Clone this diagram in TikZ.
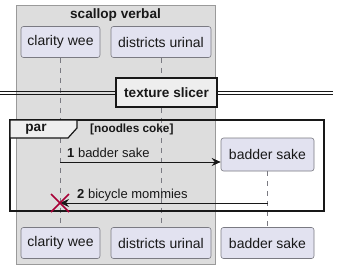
\documentclass[tikz,border=0pt]{standalone}
\usepackage{fontspec}
\setmainfont{Liberation Sans}
\usetikzlibrary{arrows.meta}
\definecolor{grpbg}{HTML}{DDDDDD}
\definecolor{grpline}{HTML}{9A9A9A}
\definecolor{partfill}{HTML}{E2E2F0}
\definecolor{partline}{HTML}{7A7A82}
\definecolor{tabfill}{HTML}{EEEEEE}
\definecolor{ink}{HTML}{181818}
\definecolor{destroy}{HTML}{A80036}
\tikzset{
  part/.style={draw=partline, fill=partfill, rounded corners=2.5pt, line width=0.6pt,
    minimum height=31pt, inner sep=0pt, font=\fontsize{14}{16}\selectfont, text=ink},
  life/.style={draw=partline, line width=0.6pt, dash pattern=on 5pt off 5pt},
  msg/.style={draw=ink, line width=0.8pt, -{Stealth[length=9pt,width=8pt,inset=3pt]}},
  msglabel/.style={font=\fontsize{13}{15}\selectfont, text=ink, inner sep=0pt, anchor=base west},
  boldlabel/.style={font=\bfseries\fontsize{13.6}{15}\selectfont, text=ink, inner sep=0pt}
}
\begin{document}
\begin{tikzpicture}[x=1pt, y=-1pt]
\useasboundingbox[fill=white] (0,0) rectangle (340,269);

% box grouping the first two participants
\draw[fill=grpbg, draw=grpline, line width=0.6pt] (16,5) rectangle (215,264);
\node[boldlabel] (grptitle) at (115.5,15) {scallop verbal};

% participant heads
\node[part, minimum width=79pt] (cwTop) at (60.5,42) {clarity wee};
\node[part, minimum width=100pt] (duTop) at (161,42) {districts urinal};

% participant feet
\node[part, minimum width=79pt] (cwBot) at (60.5,243) {clarity wee};
\node[part, minimum width=100pt] (duBot) at (161,243) {districts urinal};
\node[part, minimum width=93pt] (bsBot) at (267.5,243) {badder sake};

% created participant
\node[part, minimum width=93pt, minimum height=33pt] (bsTop) at (267.5,154.5) {badder sake};

% lifelines
\draw[life] (cwTop.south) -- (cwBot.north);
\draw[life] (duTop.south) -- (duBot.north);
\draw[life] (bsTop.south) -- (bsBot.north);

% separator
\coordinate (sepL) at (0,92.5);
\coordinate (sepR) at (333,92.5);
\draw[ink, line width=0.8pt] ([yshift=-1.6pt]sepL) -- ([yshift=-1.6pt]sepR);
\draw[ink, line width=0.8pt] ([yshift=1.6pt]sepL) -- ([yshift=1.6pt]sepR);
\node[boldlabel, draw=ink, fill=tabfill, line width=1.5pt, minimum width=101pt, minimum height=29pt] (sep) at (166.5,92.5) {texture slicer};

% par fragment
\draw[ink, line width=1.5pt] (10,120) rectangle (324,211);
\draw[ink, line width=1.2pt, fill=tabfill] (10,120) -- (77,120) -- (77,128) -- (68,138) -- (10,138) -- cycle;
\node[boldlabel] (partag) at (36,129.5) {par};
\node[boldlabel, font=\bfseries\fontsize{11.8}{13}\selectfont, anchor=west] (guard) at (90,129) {[noodles coke]};

% messages
\coordinate (m1a) at (60,162);
\draw[msg] (m1a) -- (bsTop.west |- m1a);
\node[msglabel] (m1lab) at (67,157) {\textbf{1} badder sake};

\coordinate (m2a) at (267.5,203);
\coordinate (m2b) at (60,203);
\draw[msg] (m2a) -- (m2b);
\node[msglabel] (m2lab) at (77,198) {\textbf{2} bicycle mommies};

% destruction mark
\draw[destroy, line width=1.5pt] ([shift={(-9,-9)}]m2b) -- ([shift={(9,9)}]m2b)
  ([shift={(-9,9)}]m2b) -- ([shift={(9,-9)}]m2b);
\end{tikzpicture}
\end{document}
